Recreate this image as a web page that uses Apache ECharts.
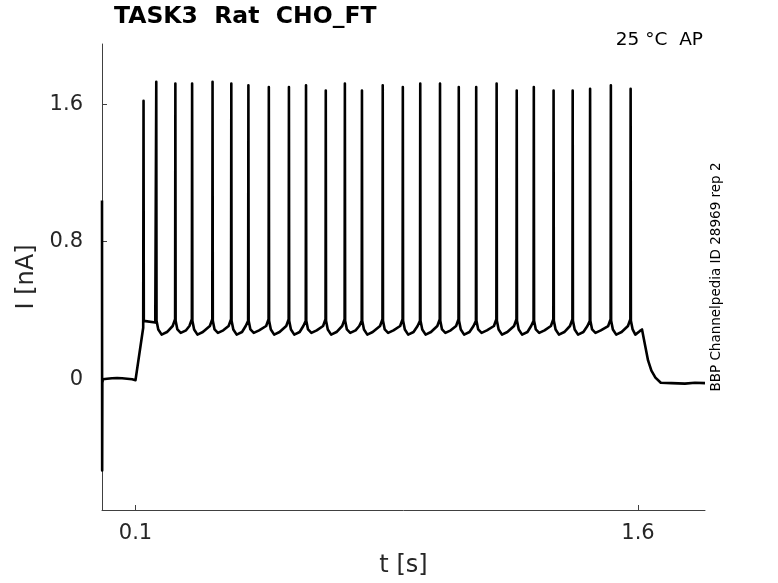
<!DOCTYPE html>
<html>
<head>
<meta charset="utf-8">
<script src="https://cdn.jsdelivr.net/npm/echarts@6/dist/echarts.min.js"></script>
<style>
  html, body { margin: 0; padding: 0; background: #fff; }
  #chart { width: 778px; height: 583px; }
</style>
</head>
<body>
<div id="chart"></div>
<script>
// Holding current before the step (t in s, I in nA), incl. the capacitive artefact at t=0
const baseT = [0, 0.0005, 0.001, 0.003, 0.015, 0.03, 0.045, 0.06, 0.075, 0.09, 0.1, 0.123];
const baseI = [1.04, -0.53, -0.02, 0.0, 0.003, 0.006, 0.008, 0.006, 0.003, 0.0, -0.005, 0.30];

// Action potentials during the step
const spikeT = [0.124, 0.162, 0.219, 0.269, 0.330, 0.386, 0.437, 0.498, 0.558, 0.609,
                0.668, 0.725, 0.776, 0.838, 0.898, 0.950, 1.009, 1.065, 1.117, 1.178,
                1.238, 1.289, 1.348, 1.405, 1.457, 1.519, 1.578];
const spikePeak = [1.62, 1.73, 1.72, 1.72, 1.73, 1.72, 1.71, 1.70, 1.70, 1.71,
                   1.68, 1.72, 1.68, 1.71, 1.70, 1.72, 1.72, 1.70, 1.70, 1.72,
                   1.68, 1.70, 1.68, 1.68, 1.69, 1.71, 1.69];
// after-hyperpolarisation minimum following each spike (first one is a flat shoulder)
const troughI = [0.33, 0.26, 0.27, 0.26, 0.27, 0.26, 0.27, 0.26, 0.26, 0.27,
                 0.26, 0.27, 0.26, 0.27, 0.26, 0.26, 0.27, 0.26, 0.27, 0.26,
                 0.26, 0.27, 0.26, 0.26, 0.27, 0.26, 0.26];
// level just before each spike fires
const preI = [0.30, 0.34, 0.35, 0.35, 0.35, 0.35, 0.34, 0.35, 0.35, 0.34,
              0.35, 0.35, 0.34, 0.35, 0.35, 0.34, 0.35, 0.35, 0.34, 0.35,
              0.35, 0.34, 0.35, 0.35, 0.34, 0.35, 0.35];

// Step offset and tail current
const tailT = [1.592, 1.605, 1.612, 1.616, 1.622, 1.630, 1.640, 1.652, 1.668, 1.70, 1.74, 1.77, 1.80];
const tailI = [0.26, 0.28, 0.29, 0.285, 0.19, 0.11, 0.05, 0.01, -0.02, -0.022, -0.025, -0.02, -0.022];

const xTicks = [0.1, 1.6];
const yTicks = [0, 0.8, 1.6];

const TEXT = '#262626';
const AXIS = '#404040';
const FONT = 'DejaVu Sans';

/**
 * Assemble the trace as [t, I] pairs
 */
function buildTrace() {
  const pts = baseT.map((t, i) => [t, baseI[i]]);
  for (let i = 0; i < spikeT.length; i++) {
    const t = spikeT[i];
    const next = spikeT[i + 1];
    pts.push([t - 0.0008, preI[i]]);
    pts.push([t, spikePeak[i]]);
    pts.push([t + 0.0008, 0.34]);
    if (i === 0) {
      // flat shoulder before the second spike
      pts.push([next - 0.003, troughI[i]]);
    } else if (next !== undefined) {
      pts.push([t + 0.006, 0.29]);
      pts.push([t + 0.016, troughI[i]]);
      pts.push([t + 0.032, troughI[i] + 0.015]);
      pts.push([next - 0.008, 0.31]);
    } else {
      pts.push([t + 0.006, 0.29]);
    }
  }
  tailT.forEach((t, i) => pts.push([t, tailI[i]]));
  return pts;
}

const chart = echarts.init(document.getElementById('chart'), null, { renderer: 'canvas' });

const option = {
  animation: false,
  backgroundColor: '#ffffff',
  textStyle: { fontFamily: FONT },
  title: {
    text: 'TASK3  Rat  CHO_FT',
    left: 114,
    top: 5,
    padding: 0,
    textStyle: { fontFamily: FONT, fontWeight: 'bold', fontSize: 23.5, color: '#000' }
  },
  grid: { left: 102, right: 73, top: 44, bottom: 71 },
  xAxis: {
    type: 'value',
    min: 0,
    max: 1.8,
    name: 't [s]',
    nameLocation: 'middle',
    nameGap: 44,
    nameTextStyle: { fontFamily: FONT, fontSize: 24, color: TEXT },
    axisLine: { onZero: false, lineStyle: { color: AXIS, width: 1 } },
    axisTick: { show: true, inside: true, length: 5, customValues: xTicks, lineStyle: { color: AXIS } },
    axisLabel: {
      customValues: xTicks,
      margin: 13,
      fontFamily: FONT, fontSize: 21, color: TEXT,
      formatter: v => v.toFixed(1)
    },
    splitLine: { show: false }
  },
  yAxis: {
    type: 'value',
    min: -0.76,
    max: 1.95,
    name: 'I [nA]',
    nameLocation: 'middle',
    nameRotate: 90,
    nameGap: 50,
    nameTextStyle: { fontFamily: FONT, fontSize: 24, color: TEXT },
    axisLine: { show: true, onZero: false, lineStyle: { color: AXIS, width: 1 } },
    axisTick: { show: true, inside: true, length: 5, customValues: yTicks, lineStyle: { color: AXIS } },
    axisLabel: {
      customValues: yTicks,
      margin: 19,
      fontFamily: FONT, fontSize: 21, color: TEXT,
      formatter: v => (v === 0 ? '0' : v.toFixed(1))
    },
    splitLine: { show: false }
  },
  graphic: [
    {
      type: 'text',
      right: 75,
      top: 31,
      style: { text: '25 °C  AP', font: '18.5px "DejaVu Sans"', fill: '#000' }
    },
    {
      type: 'text',
      x: 716,
      y: 277,
      rotation: Math.PI / 2,
      style: {
        text: 'BBP Channelpedia ID 28969 rep 2',
        font: '13.5px "DejaVu Sans"',
        fill: '#000',
        align: 'center',
        verticalAlign: 'middle'
      }
    }
  ],
  series: [
    {
      type: 'line',
      data: buildTrace(),
      showSymbol: false,
      sampling: false,
      clip: true,
      lineStyle: { color: '#000', width: 2.6, join: 'round' }
    }
  ]
};

chart.setOption(option);
</script>
</body>
</html>
